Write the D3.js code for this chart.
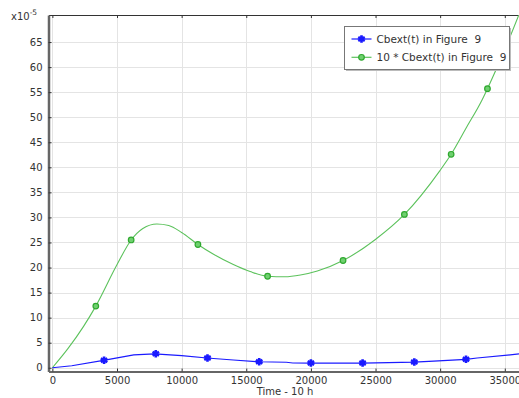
<!DOCTYPE html>
<html>
<head>
<meta charset="utf-8">
<script src="https://cdn.jsdelivr.net/npm/d3@7"></script>
<style>
  html, body { margin: 0; padding: 0; background: #fff; }
  svg { display: block; font-family: "DejaVu Sans", sans-serif; }
</style>
</head>
<body>
<svg id="chart" width="519" height="398"></svg>
<script>
// Cbext(t) sampled along the time axis (values in units of 1e-5)
const blueT = [0, 1500, 3950, 6300, 7900, 10000, 11955, 14000, 15950, 18100, 18600, 19955, 23980, 26000, 27985, 29500, 32010, 32860, 36100];
const blueV = [0, 0.4, 1.48, 2.55, 2.78, 2.4, 1.94, 1.55, 1.2, 1.1, 0.95, 0.94, 0.94, 1.03, 1.14, 1.34, 1.68, 1.94, 2.75];
const blueMarkT = [4000, 8000, 12000, 16000, 20000, 24000, 28000, 32000];
const blueMarkV = [1.48, 2.78, 1.94, 1.2, 0.94, 0.94, 1.14, 1.68];

// 10 * Cbext(t)
const greenT = [0, 1200, 2400, 3360, 4985, 6094, 7000, 8084, 9000, 10000, 11259, 12500, 14000, 15300, 16650, 18000, 19190, 20500, 22487, 24990, 27234, 29970, 30850, 32000, 33250, 33660, 35000, 36100];
const greenV = [0, 3.8, 8.2, 12.3, 20.5, 25.5, 27.8, 28.7, 28.4, 27.0, 24.6, 22.6, 20.6, 19.2, 18.26, 18.15, 18.5, 19.3, 21.4, 25.6, 30.6, 39.3, 42.6, 47.8, 53.5, 55.7, 63.5, 70.5];
const greenMarkT = [3360, 6094, 11259, 16650, 22487, 27234, 30850, 33660];
const greenMarkV = [12.3, 25.5, 24.6, 18.26, 21.4, 30.6, 42.6, 55.7];

const xTicks = [0, 5000, 10000, 15000, 20000, 25000, 30000, 35000];
const yTicks = [0, 5, 10, 15, 20, 25, 30, 35, 40, 45, 50, 55, 60, 65];

const legendLabels = ["Cbext(t) in Figure  9", "10 * Cbext(t) in Figure  9"];
const xTitle = "Time - 10 h";

const blueColor = "#1a1aff";
const greenColor = "#5cc25c";
const textColor = "#333";
const fontSize = 10;

const svg = d3.select("#chart");
const pLeft = 48.5, pRight = 519, pTop = 15, pBottom = 371.5;

const x = d3.scaleLinear().domain([-300, 36100]).range([pLeft, pRight]);
const y = d3.scaleLinear().domain([-0.75, 70.4]).range([pBottom, pTop]);

svg.append("defs").append("clipPath").attr("id", "plotclip")
  .append("rect").attr("x", pLeft).attr("y", pTop).attr("width", pRight - pLeft).attr("height", pBottom - pTop);

// grid
const grid = svg.append("g").attr("stroke", "#e4e4e4").attr("stroke-width", 1);
grid.selectAll("line.gx").data(xTicks).join("line").attr("class", "gx")
  .attr("x1", d => Math.round(x(d)) + 0.5).attr("x2", d => Math.round(x(d)) + 0.5)
  .attr("y1", pTop).attr("y2", pBottom);
grid.selectAll("line.gy").data(yTicks).join("line").attr("class", "gy")
  .attr("y1", d => Math.round(y(d)) + 0.5).attr("y2", d => Math.round(y(d)) + 0.5)
  .attr("x1", pLeft).attr("x2", pRight);

// axes
const xAxis = d3.axisBottom(x).tickValues(xTicks).tickSizeInner(-3).tickSizeOuter(0).tickPadding(5.5).tickFormat(d3.format("d"));
const gx = svg.append("g").attr("transform", `translate(0,${pBottom})`).call(xAxis);
gx.select(".domain").attr("stroke", "#333").attr("stroke-width", 1.5);
gx.selectAll(".tick line").attr("stroke", "#333");
gx.selectAll("text").attr("fill", textColor).attr("font-size", fontSize).attr("font-family", "DejaVu Sans, sans-serif");

const xTopAxis = d3.axisTop(x).tickValues(xTicks).tickSizeInner(-3).tickSizeOuter(0).tickFormat("");
const gxt = svg.append("g").attr("transform", `translate(0,${pTop})`).call(xTopAxis);
gxt.select(".domain").attr("stroke", "#333").attr("stroke-width", 1);
gxt.selectAll(".tick line").attr("stroke", "#333");

const yAxis = d3.axisLeft(y).tickValues(yTicks).tickSizeInner(-3).tickSizeOuter(0).tickPadding(6).tickFormat(d3.format("d"));
const gy = svg.append("g").attr("transform", `translate(${pLeft},0)`).call(yAxis);
gy.select(".domain").attr("stroke", "#666").attr("stroke-width", 2.5);
gy.selectAll(".tick line").attr("stroke", "#333");
gy.selectAll("text").attr("fill", textColor).attr("font-size", fontSize).attr("font-family", "DejaVu Sans, sans-serif");

// exponent label
const ex = svg.append("text").attr("x", 11).attr("y", 20).attr("fill", textColor).attr("font-size", 10);
ex.append("tspan").text("x10");
ex.append("tspan").attr("dy", -5).attr("font-size", 7.5).text("-5");

// x axis title
svg.append("text").attr("x", 285).attr("y", 395).attr("text-anchor", "middle")
  .attr("fill", textColor).attr("font-size", fontSize).text(xTitle);

const plot = svg.append("g").attr("clip-path", "url(#plotclip)");

const greenPts = greenT.map((t, i) => [t, greenV[i]]);
const bluePts = blueT.map((t, i) => [t, blueV[i]]);

plot.append("path").datum(greenPts)
  .attr("fill", "none").attr("stroke", greenColor).attr("stroke-width", 1.1)
  .attr("d", d3.line().x(d => x(d[0])).y(d => y(d[1])).curve(d3.curveMonotoneX));

plot.append("path").datum(bluePts)
  .attr("fill", "none").attr("stroke", blueColor).attr("stroke-width", 1.2)
  .attr("d", d3.line().x(d => x(d[0])).y(d => y(d[1])));

const asterisk = d3.symbol().type(d3.symbolAsterisk).size(40);

function blueMarker(g, cx, cy) {
  g.append("path").attr("d", asterisk()).attr("transform", `translate(${cx},${cy})`)
    .attr("fill", "none").attr("stroke", blueColor).attr("stroke-width", 2.6);
  g.append("circle").attr("cx", cx).attr("cy", cy).attr("r", 2.2).attr("fill", blueColor);
}
function greenMarker(g, cx, cy) {
  g.append("circle").attr("cx", cx).attr("cy", cy).attr("r", 2.8)
    .attr("fill", "#6fd06f").attr("stroke", "#2fa82f").attr("stroke-width", 1.2);
}

greenMarkT.forEach((t, i) => greenMarker(plot, x(t), y(greenMarkV[i])));
blueMarkT.forEach((t, i) => blueMarker(plot, x(t), y(blueMarkV[i])));

// legend
const lg = svg.append("g");
const lx = 344.5, ly = 26.5, lw = 165, lh = 43;
lg.append("rect").attr("x", lx + 1.5).attr("y", ly + 1.5).attr("width", lw).attr("height", lh).attr("fill", "#bbb");
lg.append("rect").attr("x", lx).attr("y", ly).attr("width", lw).attr("height", lh)
  .attr("fill", "#fff").attr("stroke", "#777").attr("stroke-width", 1);
const colors = [blueColor, greenColor];
legendLabels.forEach((lab, i) => {
  const yy = ly + 12.5 + i * 18.3;
  lg.append("line").attr("x1", lx + 7).attr("x2", lx + 27).attr("y1", yy).attr("y2", yy)
    .attr("stroke", colors[i]).attr("stroke-width", 1.2);
  if (i === 0) blueMarker(lg, lx + 17, yy); else greenMarker(lg, lx + 17, yy);
  lg.append("text").attr("x", lx + 32).attr("y", yy + 3.8).attr("fill", textColor)
    .attr("font-size", 10.5).style("white-space", "pre").text(lab);
});
</script>
</body>
</html>
